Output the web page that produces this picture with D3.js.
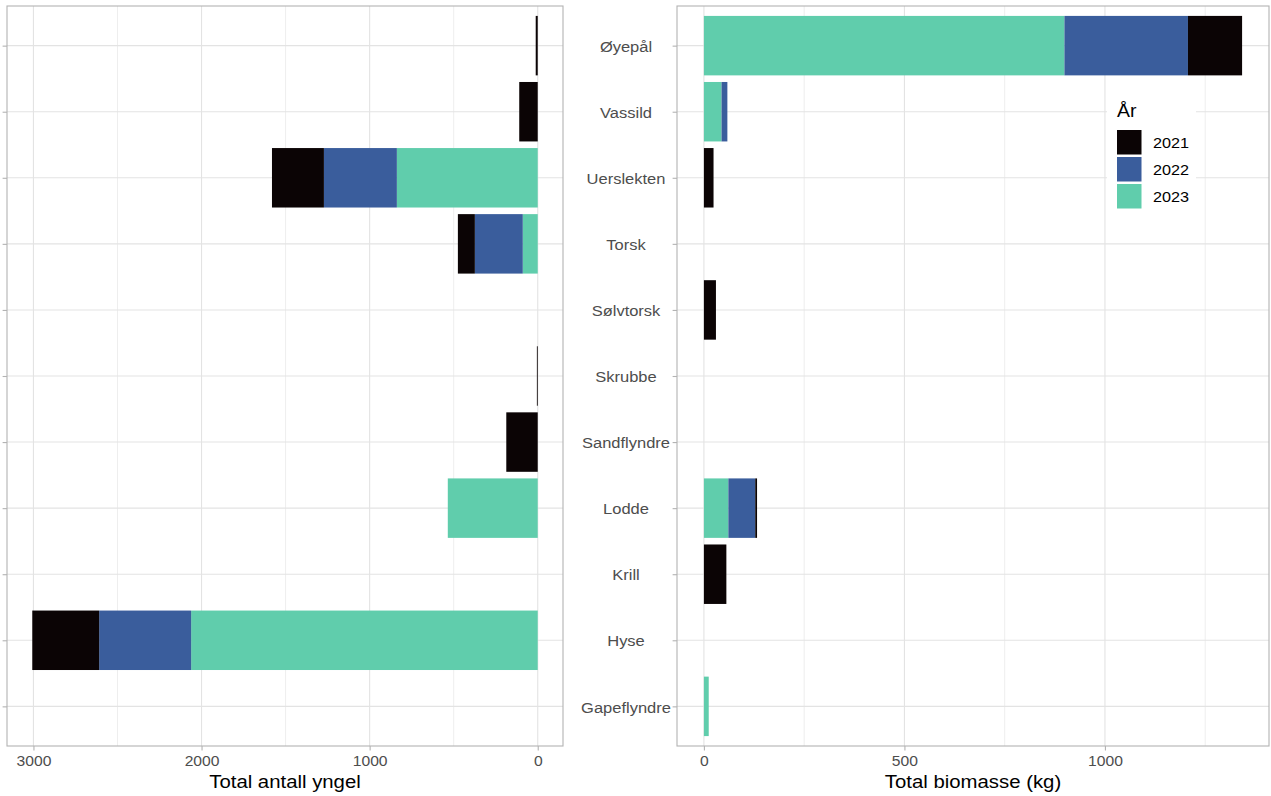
<!DOCTYPE html>
<html>
<head>
<meta charset="utf-8">
<script src="https://cdn.jsdelivr.net/npm/d3@7"></script>
<style>
  html, body { margin: 0; padding: 0; background: #fff; }
  svg { display: block; }
  text { font-family: "Liberation Sans", Arial, Helvetica, sans-serif; }
</style>
</head>
<body>
<svg id="chart" width="1271" height="796"></svg>
<script>
// ---- data ----
const categories = ["Øyepål","Vassild","Uerslekten","Torsk","Sølvtorsk","Skrubbe","Sandflyndre","Lodde","Krill","Hyse","Gapeflyndre"];
const years = ["2021","2022","2023"];
const antall2021 = [12, 110, 309, 101, 0, 5, 187, 0, 0, 398, 0];
const antall2022 = [0, 0, 434, 285, 0, 0, 0, 0, 0, 547, 0];
const antall2023 = [0, 0, 838, 89, 0, 0, 0, 535, 0, 2062, 0];
const biomasse2021 = [135, 0, 24, 0, 30, 0, 0, 4.5, 56, 0, 0];
const biomasse2022 = [308, 14.5, 0, 0, 0, 0, 0, 67, 0, 0, 0];
const biomasse2023 = [899, 44, 0, 0, 0, 0, 0, 61, 0, 0, 12];
const leftTicks = [0, 1000, 2000, 3000];
const rightTicks = [0, 500, 1000];
const colors = {"2021": "#0B0405", "2022": "#3A5D9C", "2023": "#60CDAC"};

const antall = {"2021": antall2021, "2022": antall2022, "2023": antall2023};
const biomasse = {"2021": biomasse2021, "2022": biomasse2022, "2023": biomasse2023};

function table(src) {
  return categories.map((c, i) => {
    const row = {cat: c};
    years.forEach(y => row[y] = src[y][i]);
    return row;
  });
}
// stack with 2023 nearest zero, then 2022, then 2021
const stackKeys = ["2023", "2022", "2021"];
const stack = d3.stack().keys(stackKeys);
const leftSeries = stack(table(antall));
const rightSeries = stack(table(biomasse));

const svg = d3.select("#chart");
const pTop = 6, pBottom = 746;
const L = {x0: 7, x1: 563};
const R = {x0: 677, x1: 1269};
const gridCol = "#e3e3e3", borderCol = "#b3b3b3", textCol = "#4d4d4d";

const yS = d3.scalePoint().domain(categories).range([pTop, pBottom]).padding(0.6);
const barH = yS.step() * 0.9;

const leftMax = d3.max(leftSeries[leftSeries.length - 1], d => d[1]);
const rightMax = d3.max(rightSeries[rightSeries.length - 1], d => d[1]);
const xL = d3.scaleLinear().domain([leftMax * 1.05, -leftMax * 0.05]).range([L.x0, L.x1]);
const xR = d3.scaleLinear().domain([-rightMax * 0.05, rightMax * 1.05]).range([R.x0, R.x1]);

function panel(P, x, ticks, series, minorStep) {
  const g = svg.append("g");
  const [d0, d1] = x.domain().slice().sort((a, b) => a - b);
  const minors = d3.range(Math.ceil(d0 / minorStep) * minorStep, d1, minorStep).filter(v => !ticks.includes(v));
  g.selectAll(".minor").data(minors).join("line")
    .attr("x1", d => x(d)).attr("x2", d => x(d)).attr("y1", pTop).attr("y2", pBottom)
    .attr("stroke", "#ececec").attr("stroke-width", 0.9);
  g.selectAll(".major").data(ticks).join("line")
    .attr("x1", d => x(d)).attr("x2", d => x(d)).attr("y1", pTop).attr("y2", pBottom)
    .attr("stroke", gridCol).attr("stroke-width", 1.1);
  g.selectAll(".hmajor").data(categories).join("line")
    .attr("x1", P.x0).attr("x2", P.x1).attr("y1", d => yS(d)).attr("y2", d => yS(d))
    .attr("stroke", gridCol).attr("stroke-width", 1.1);
  series.forEach(s => {
    g.append("g").attr("fill", colors[s.key]).selectAll("rect")
      .data(s.filter(d => d[1] - d[0] > 0)).join("rect")
      .attr("x", d => Math.min(x(d[0]), x(d[1])))
      .attr("width", d => Math.abs(x(d[1]) - x(d[0])))
      .attr("y", d => yS(d.data.cat) - barH / 2)
      .attr("height", barH);
  });
  g.append("rect").attr("x", P.x0).attr("y", pTop).attr("width", P.x1 - P.x0).attr("height", pBottom - pTop)
    .attr("fill", "none").attr("stroke", borderCol).attr("stroke-width", 1.1);
  const ax = svg.append("g").attr("transform", `translate(0,${pBottom})`)
    .call(d3.axisBottom(x).tickValues(ticks).tickSize(4.4).tickPadding(5.5).tickFormat(d3.format("d")));
  ax.select(".domain").remove();
  ax.selectAll("line").attr("stroke", borderCol).attr("stroke-width", 1.1);
  ax.selectAll("text").attr("fill", textCol).style("font-size", "14.5px")
    .attr("transform", "scale(1.08,1)");
  return g;
}

panel(L, xL, leftTicks, leftSeries, 500);
panel(R, xR, rightTicks, rightSeries, 250);

const ayL = svg.append("g").attr("transform", `translate(${L.x0},0)`)
  .call(d3.axisLeft(yS).tickSize(4.4).tickFormat(""));
ayL.select(".domain").remove();
ayL.selectAll("line").attr("stroke", borderCol).attr("stroke-width", 1.1);

const ayR = svg.append("g").attr("transform", `translate(${R.x0},0)`)
  .call(d3.axisLeft(yS).tickSize(4.4));
ayR.select(".domain").remove();
ayR.selectAll("line").attr("stroke", borderCol).attr("stroke-width", 1.1);
ayR.selectAll("text").attr("x", 0).attr("dy", "0.38em")
  .attr("text-anchor", "middle").attr("fill", textCol).style("font-size", "15px")
  .attr("transform", "translate(-51,0) scale(1.1,1)");

svg.append("text").attr("transform", `translate(${(L.x0 + L.x1) / 2},788) scale(1.1,1)`)
  .attr("text-anchor", "middle").style("font-size", "18.5px").attr("fill", "#000").text("Total antall yngel");
svg.append("text").attr("transform", `translate(${(R.x0 + R.x1) / 2},788) scale(1.1,1)`)
  .attr("text-anchor", "middle").style("font-size", "18.5px").attr("fill", "#000").text("Total biomasse (kg)");

const lg = svg.append("g");
lg.append("rect").attr("x", 1107).attr("y", 95).attr("width", 89).attr("height", 120).attr("fill", "#fff");
lg.append("text").attr("transform", "translate(1117,117) scale(1.08,1)").style("font-size", "18px").attr("fill", "#000").text("År");
years.forEach((yr, i) => {
  const ky = 130 + i * 27;
  lg.append("rect").attr("x", 1117).attr("y", ky).attr("width", 24.5).attr("height", 24.5).attr("fill", colors[yr]);
  lg.append("text").attr("transform", `translate(1153,${ky + 12.25}) scale(1.08,1)`).attr("dy", "0.35em")
    .style("font-size", "15px").attr("fill", "#000").text(yr);
});
</script>
</body>
</html>
